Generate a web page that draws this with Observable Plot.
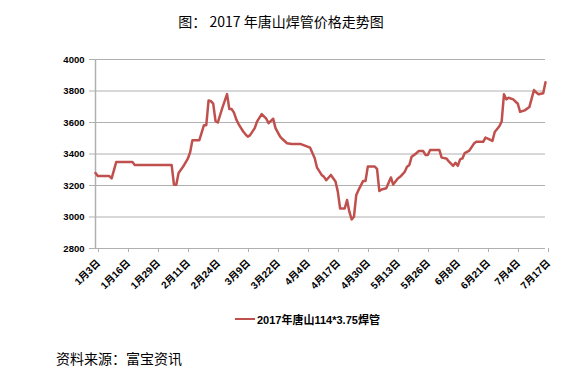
<!DOCTYPE html>
<html><head><meta charset="utf-8">
<script src="https://cdn.jsdelivr.net/npm/d3@7"></script>
<script src="https://cdn.jsdelivr.net/npm/@observablehq/plot@0.6"></script>
<style>
body{margin:0;background:#fff;}
#wrap{position:relative;width:570px;height:389px;overflow:hidden;}
#title{position:absolute;left:0;width:562px;top:11px;text-align:center;font-family:"Noto Sans CJK SC",sans-serif;font-size:14px;color:#000;}
#chart{position:absolute;left:0;top:0;}
#legend{position:absolute;left:235px;top:311px;font-family:"Liberation Sans","Noto Sans CJK SC",sans-serif;font-weight:bold;font-size:11px;color:#000;display:flex;align-items:center;white-space:nowrap;}
#legend .sw{display:inline-block;width:20px;height:2.5px;background:#C0504D;margin-right:2px;}
#caption{position:absolute;left:56px;top:348px;font-family:"Noto Sans CJK SC",sans-serif;font-size:14px;color:#000;}
</style></head><body>
<div id="wrap">
<div id="title">图： 2017 年唐山焊管价格走势图</div>
<div id="chart"></div>
<div id="legend"><span class="sw"></span><span>2017年唐山114*3.75焊管</span></div>
<div id="caption">资料来源：富宝资讯</div>
</div>
<script>
const dates = ["2017-01-03","2017-01-04","2017-01-09","2017-01-10","2017-01-12","2017-01-19","2017-01-20","2017-02-05","2017-02-06","2017-02-07","2017-02-08","2017-02-10","2017-02-12","2017-02-13","2017-02-14","2017-02-17","2017-02-19","2017-02-20","2017-02-21","2017-02-22","2017-02-23","2017-02-24","2017-02-25","2017-02-27","2017-03-01","2017-03-02","2017-03-03","2017-03-04","2017-03-05","2017-03-06","2017-03-08","2017-03-09","2017-03-10","2017-03-11","2017-03-13","2017-03-14","2017-03-16","2017-03-18","2017-03-19","2017-03-21","2017-03-22","2017-03-24","2017-03-25","2017-03-27","2017-03-29","2017-04-02","2017-04-04","2017-04-06","2017-04-08","2017-04-09","2017-04-11","2017-04-12","2017-04-13","2017-04-15","2017-04-17","2017-04-18","2017-04-19","2017-04-21","2017-04-22","2017-04-23","2017-04-24","2017-04-25","2017-04-26","2017-04-27","2017-04-29","2017-04-30","2017-05-01","2017-05-04","2017-05-05","2017-05-06","2017-05-07","2017-05-09","2017-05-11","2017-05-12","2017-05-14","2017-05-15","2017-05-17","2017-05-18","2017-05-19","2017-05-20","2017-05-22","2017-05-23","2017-05-25","2017-05-26","2017-05-27","2017-05-28","2017-06-01","2017-06-02","2017-06-04","2017-06-05","2017-06-07","2017-06-08","2017-06-09","2017-06-10","2017-06-11","2017-06-12","2017-06-14","2017-06-16","2017-06-17","2017-06-20","2017-06-21","2017-06-22","2017-06-24","2017-06-25","2017-06-27","2017-06-28","2017-06-29","2017-06-30","2017-07-01","2017-07-03","2017-07-05","2017-07-06","2017-07-08","2017-07-10","2017-07-12","2017-07-13","2017-07-14","2017-07-16","2017-07-17"];
const prices = [3280,3260,3260,3245,3350,3350,3330,3330,3205,3205,3280,3320,3370,3410,3488,3488,3583,3583,3740,3735,3720,3610,3600,3695,3780,3685,3685,3663,3620,3590,3543,3525,3510,3520,3564,3606,3653,3624,3596,3624,3564,3510,3495,3468,3463,3463,3452,3440,3373,3313,3267,3255,3233,3267,3225,3161,3054,3054,3108,3034,2985,3002,3140,3172,3229,3229,3320,3320,3305,3165,3175,3182,3251,3206,3245,3255,3287,3319,3330,3383,3404,3419,3419,3394,3394,3426,3426,3377,3372,3355,3325,3344,3325,3366,3372,3406,3422,3466,3477,3477,3504,3498,3483,3540,3576,3606,3779,3747,3757,3747,3719,3668,3677,3698,3806,3791,3779,3786,3855];
const xTickDates = ["2017-01-03","2017-01-16","2017-01-29","2017-02-11","2017-02-24","2017-03-09","2017-03-22","2017-04-04","2017-04-17","2017-04-30","2017-05-13","2017-05-26","2017-06-08","2017-06-21","2017-07-04","2017-07-17"];
const yTicks = [2800,3000,3200,3400,3600,3800,4000];
const seriesName = "2017年唐山114*3.75焊管";

const parse = d3.utcParse("%Y-%m-%d");
const data = dates.map((d,i)=>({date:parse(d), price:prices[i]}));
const xt = xTickDates.map(parse);
const fmt = d => `${d.getUTCMonth()+1}月${d.getUTCDate()}日`;

const chart = Plot.plot({
  width:570, height:310,
  marginLeft:95, marginRight:25, marginTop:59, marginBottom:62,
  style:{fontFamily:'"Liberation Sans","Noto Sans CJK SC",sans-serif', fontSize:"9.5px", fontWeight:"bold", color:"#000", background:"transparent"},
  x:{type:"utc", domain:[xt[0], xt[xt.length-1]]},
  y:{domain:[2800,4000]},
  marks:[
    Plot.gridY(yTicks,{stroke:"#b0b0b0", strokeOpacity:1, strokeWidth:1}),
    Plot.ruleX([xt[0]],{stroke:"#b0b0b0", strokeWidth:1.5}),
    Plot.axisY({ticks:yTicks, tickSize:6, tickPadding:5, stroke:"#b0b0b0", tickFormat:d=>String(d), label:null}),
    Plot.axisX({ticks:xt, tickFormat:fmt, tickRotate:-45, tickSize:4, tickPadding:9, dx:3, fontSize:10, stroke:"#b0b0b0", label:null}),
    Plot.line(data,{x:"date", y:"price", stroke:"#C0504D", strokeWidth:2.5, strokeLinejoin:"round"})
  ]
});
document.getElementById("chart").appendChild(chart);
</script>
</body></html>
